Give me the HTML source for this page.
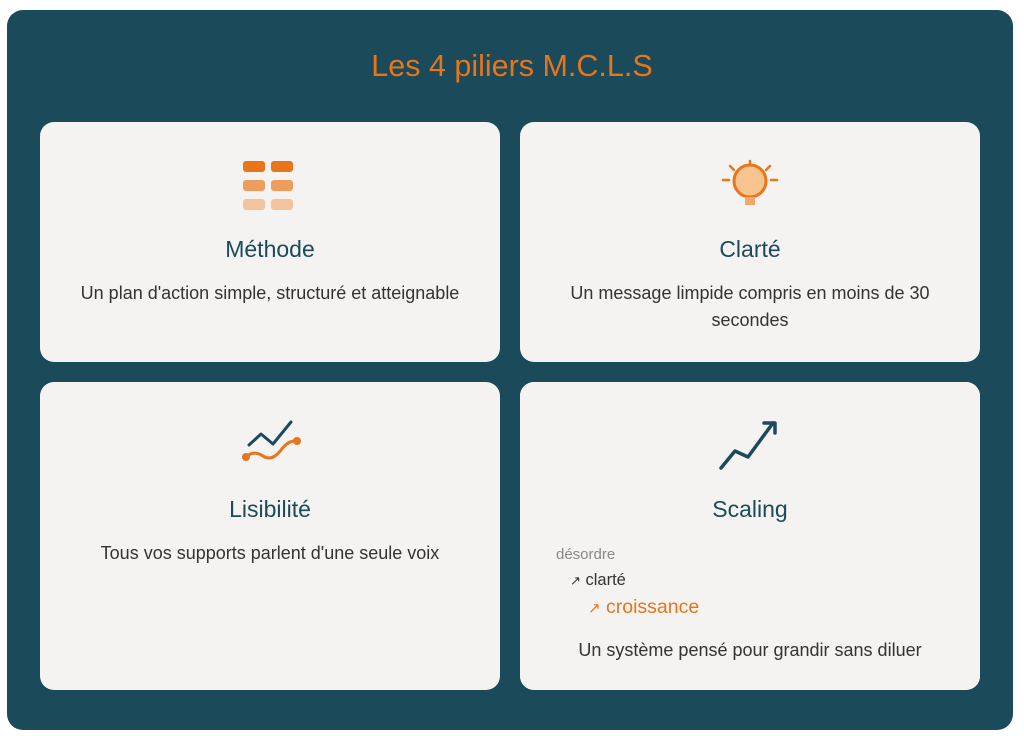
<!DOCTYPE html>
<html><head><meta charset="utf-8"><style>
body{margin:0;width:1024px;height:736px;background:#fff;font-family:"Liberation Sans",sans-serif;position:relative;overflow:hidden}
.outer{position:absolute;left:7px;top:10px;width:1006px;height:720px;background:#1b4a5a;border-radius:16px}
h1{position:absolute;left:0;width:1024px;top:49px;margin:0;text-align:center;font-weight:normal;font-size:30.5px;color:#e8751a}
.card{position:absolute;background:#f4f3f1;border-radius:14px;text-align:center}
.card svg{position:absolute;left:50%;transform:translateX(-50%)}
.t{position:absolute;left:0;right:0;font-size:23px;color:#1b4a5a}
.d{position:absolute;left:20px;right:20px;font-size:18px;color:#333;line-height:27px}
</style></head><body>
<div class="outer"></div>
<h1>Les 4 piliers M.C.L.S</h1>

<div class="card" style="left:40px;top:122px;width:460px;height:240px">
<svg style="top:36px" width="60" height="58" viewBox="0 0 60 58">
<rect x="3" y="3" width="22" height="11" rx="3" fill="#e8751a"/><rect x="31" y="3" width="22" height="11" rx="3" fill="#e8751a"/>
<rect x="3" y="22" width="22" height="11" rx="3" fill="#ef9d5c"/><rect x="31" y="22" width="22" height="11" rx="3" fill="#ef9d5c"/>
<rect x="3" y="41" width="22" height="11" rx="3" fill="#f2c39c"/><rect x="31" y="41" width="22" height="11" rx="3" fill="#f2c39c"/>
</svg>
<div class="t" style="top:114px">Méthode</div>
<div class="d" style="top:158px">Un plan d'action simple, structuré et atteignable</div>
</div>

<div class="card" style="left:520px;top:122px;width:460px;height:240px">
<svg style="top:36px" width="60" height="52" viewBox="0 0 60 52">
<line x1="30" y1="3" x2="30" y2="9" stroke="#e8751a" stroke-width="2.5" stroke-linecap="round"/>
<line x1="10" y1="8" x2="14" y2="12" stroke="#e8751a" stroke-width="2.5" stroke-linecap="round"/>
<line x1="50" y1="8" x2="46" y2="12" stroke="#e8751a" stroke-width="2.5" stroke-linecap="round"/>
<line x1="3" y1="22" x2="9" y2="22" stroke="#e8751a" stroke-width="2.5" stroke-linecap="round"/>
<line x1="51" y1="22" x2="57" y2="22" stroke="#e8751a" stroke-width="2.5" stroke-linecap="round"/>
<circle cx="30" cy="23" r="16" fill="#f7c48f" stroke="#e8751a" stroke-width="3"/>
<rect x="25" y="39" width="10" height="8" fill="#f2a868"/>
</svg>
<div class="t" style="top:114px">Clarté</div>
<div class="d" style="top:158px">Un message limpide compris en moins de 30 secondes</div>
</div>

<div class="card" style="left:520px;top:382px;width:460px;height:308px"></div>

<div class="card" style="left:40px;top:382px;width:460px;height:308px">
<svg style="top:36px;margin-left:3px" width="64" height="46" viewBox="0 0 64 46">
<polyline points="8,27 20,16 32,26 50,4" fill="none" stroke="#1b4a5a" stroke-width="3" stroke-linecap="round" stroke-linejoin="round"/>
<path d="M5,39 C10,34 16,34 22,38 C28,42 34,40 40,32 C44,27 48,23 54,23" fill="none" stroke="#e8751a" stroke-width="3" stroke-linecap="round"/>
<circle cx="5" cy="39" r="4" fill="#e8751a"/><circle cx="56" cy="23" r="4" fill="#e8751a"/>
</svg>
<div class="t" style="top:114px">Lisibilité</div>
<div class="d" style="top:158px">Tous vos supports parlent d'une seule voix</div>
</div>

<div class="card" style="left:520px;top:382px;width:460px;height:308px">
<svg style="top:36px" width="64" height="54" viewBox="0 0 64 54">
<polyline points="3,50 17,33 30,39 55,5" fill="none" stroke="#1b4a5a" stroke-width="3.5" stroke-linecap="round" stroke-linejoin="round"/>
<polyline points="46,5 57,5 57,15" fill="none" stroke="#1b4a5a" stroke-width="3.5" stroke-linecap="round" stroke-linejoin="round"/>
</svg>
<div class="t" style="top:114px">Scaling</div>
<div style="position:absolute;left:36px;top:164px;font-size:15px;color:#888;text-align:left">désordre</div>
<div style="position:absolute;left:50px;top:189px;font-size:16.5px;color:#333;text-align:left"><span style="font-size:13px">↗</span> clarté</div>
<div style="position:absolute;left:68px;top:214px;font-size:19.5px;color:#e8751a;text-align:left"><span style="font-size:15px">↗</span> croissance</div>
<div class="d" style="top:255px">Un système pensé pour grandir sans diluer</div>
</div>
</body></html>
